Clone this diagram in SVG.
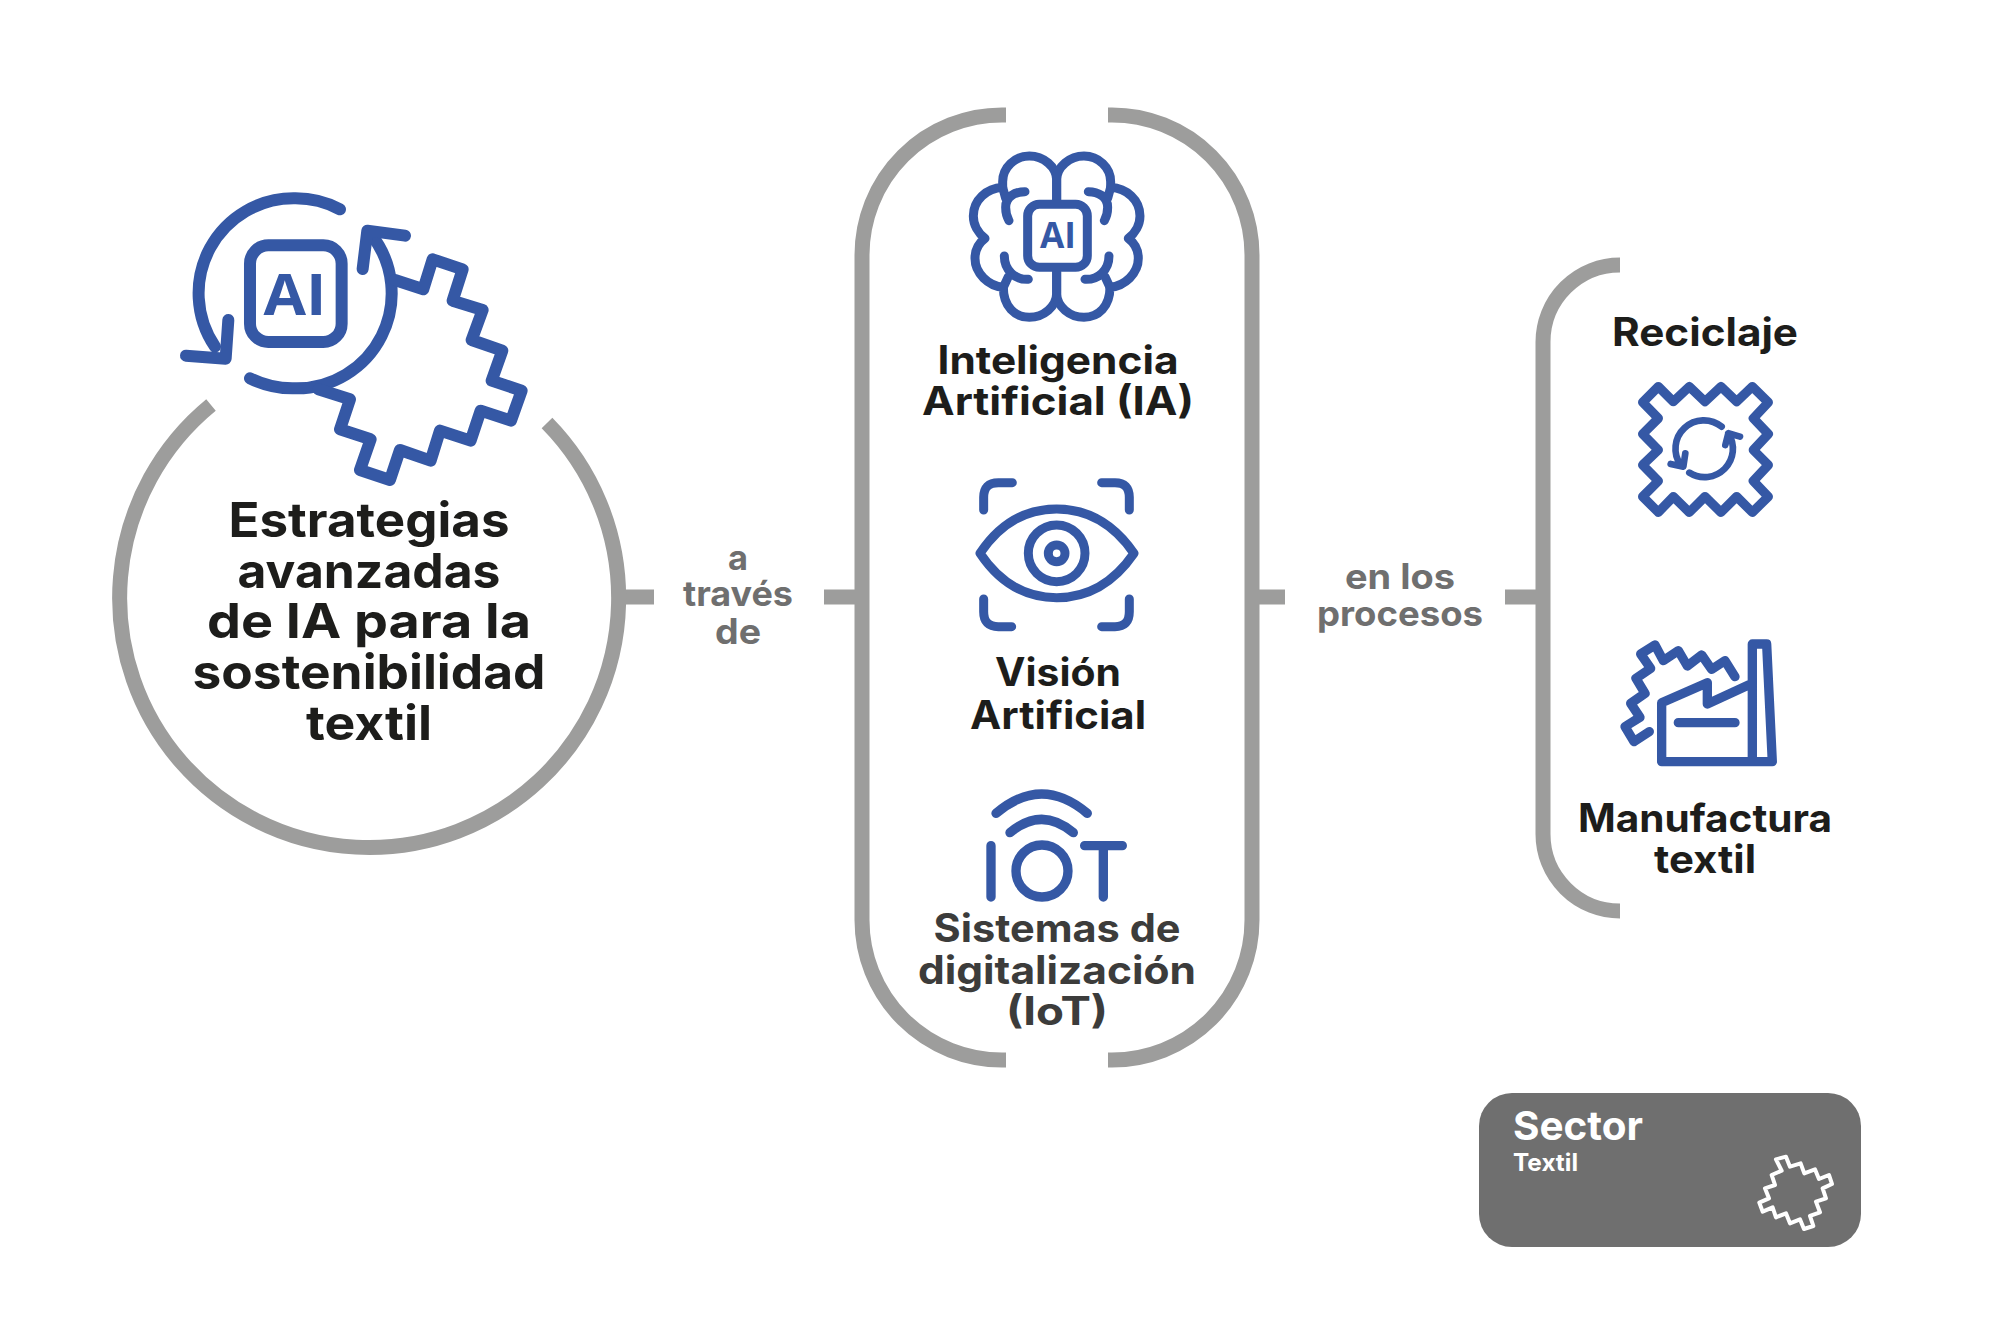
<svg xmlns="http://www.w3.org/2000/svg" width="2000" height="1333" viewBox="0 0 2000 1333">
<style>
text{font-family:Inter,"Liberation Sans",sans-serif;font-weight:700;text-anchor:middle}
.g{fill:none;stroke:#9d9d9c;stroke-width:15}
.i{fill:none;stroke:#3558a5;stroke-linecap:round;stroke-linejoin:round}
.ai{fill:#3558a5;font-family:"Open Sans",sans-serif;font-weight:700}
.m{font-size:48px;fill:#1d1d1b}
.s{font-size:39px;fill:#1d1d1b}
.d{font-size:39px;fill:#3c3c3b}
.c{font-size:35px;fill:#6f6f6f}
.w{fill:#fff;text-anchor:start}
</style>
<rect width="2000" height="1333" fill="#fff"/>
<g id="connectors">
<path class="g" d="M625 597H654M824 597H856M1259 597H1285M1505 597H1537"/>
</g>
<g id="node-estrategias">
<path class="g" d="M211 405A249.500 249.500 0 1 0 547 423"/>
<g class="i" stroke-width="36" transform="translate(160 170) scale(.3333)">
<path d="M540 118A285 285 0 0 0 405 85A285 285 0 0 0 165 530"/>
<path d="M78 557L197 566L205 450"/>
<path d="M270 625A285 285 0 0 0 405 655A285 285 0 0 0 635 195"/>
<path d="M608 297L622 182L735 197"/>
<rect x="270" y="226" width="275" height="290" rx="55"/>
<path d="M705 330L790 358L818 268L908 298L878 392L968 420L935 510L1027 542L995 632L1085 662L1053 752L962 722L932 812L840 782L812 872L720 840L690 930L600 900L632 808L540 778L570 688L475 658"/>
</g>
<text class="ai" x="295" y="315" font-size="58" textLength="63" lengthAdjust="spacingAndGlyphs">AI</text>
<text class="m" x="369" y="537" textLength="281" lengthAdjust="spacingAndGlyphs">Estrategias</text>
<text class="m" x="369" y="588" textLength="263" lengthAdjust="spacingAndGlyphs">avanzadas</text>
<text class="m" x="369" y="638" textLength="324" lengthAdjust="spacingAndGlyphs">de IA para la</text>
<text class="m" x="369" y="689" textLength="353" lengthAdjust="spacingAndGlyphs">sostenibilidad</text>
<text class="m" x="369" y="740" textLength="126" lengthAdjust="spacingAndGlyphs">textil</text>
</g>
<g id="label-a-traves-de">
<text class="c" x="738" y="570" textLength="20" lengthAdjust="spacingAndGlyphs">a</text>
<text class="c" x="738" y="606" textLength="110" lengthAdjust="spacingAndGlyphs">través</text>
<text class="c" x="738" y="644" textLength="46" lengthAdjust="spacingAndGlyphs">de</text>
</g>
<g id="node-tecnologias">
<path class="g" d="M1006 115H1002A140 140 0 0 0 862 255V920A140 140 0 0 0 1002 1060H1006M1108 115H1112A140 140 0 0 1 1252 255V920A140 140 0 0 1 1112 1060H1108"/>
</g>
<g id="node-ia">
<defs>
<g id="brain-half">
<path d="M350 210V150C350 110 310 78 268 78C225 78 188 112 188 155V172C140 175 100 210 100 258C100 285 115 310 135 325C115 340 105 360 105 385C105 430 145 468 190 472C190 530 225 562 268 562C310 562 350 530 350 490V425"/>
<path d="M255 185C225 185 197 200 197 232Q197 255 207 272M188 172L197 205M193 378C193 420 225 450 265 448M190 472L205 440"/>
</g>
</defs>
<g class="i" stroke-width="27" transform="translate(940 130) scale(.3333)">
<use href="#brain-half"/>
<use href="#brain-half" transform="translate(700 0) scale(-1 1)"/>
<rect x="263" y="223" width="179" height="189" rx="35"/>
</g>
<text class="ai" x="1058" y="248" font-size="35" textLength="36" lengthAdjust="spacingAndGlyphs">AI</text>
<text class="s" x="1058" y="374" textLength="241" lengthAdjust="spacingAndGlyphs">Inteligencia</text>
<text class="s" x="1058" y="415" textLength="272" lengthAdjust="spacingAndGlyphs">Artificial (IA)</text>
</g>
<g id="node-vision">
<g class="i" stroke-width="27" transform="translate(950 460) scale(.3333)">
<path d="M187 68H145Q101 68 101 112V150M455 68H495Q538 68 538 112V150M101 417V455Q101 500 145 500H185M538 417V455Q538 500 495 500H455"/>
<path d="M90 280C150 190 230 147 320 147C410 147 490 190 552 280C490 370 410 413 320 413C230 413 150 370 90 280Z"/>
<circle cx="320" cy="280" r="85"/>
<circle cx="320" cy="280" r="25"/>
</g>
<text class="s" x="1058" y="686" textLength="126" lengthAdjust="spacingAndGlyphs">Visión</text>
<text class="s" x="1058" y="729" textLength="176" lengthAdjust="spacingAndGlyphs">Artificial</text>
</g>
<g id="node-iot">
<g class="i" stroke-width="28" transform="translate(960 770) scale(.3333)">
<path d="M108 130Q245 14 382 130M150 188Q245 108 340 188M93 227V381M374 227H487M430 227V381"/>
<circle cx="246" cy="303" r="78"/>
</g>
<text class="d" x="1057" y="942" textLength="247" lengthAdjust="spacingAndGlyphs">Sistemas de</text>
<text class="d" x="1057" y="984" textLength="278" lengthAdjust="spacingAndGlyphs">digitalización</text>
<text class="d" x="1057" y="1025" textLength="102" lengthAdjust="spacingAndGlyphs">(IoT)</text>
</g>
<g id="label-en-los-procesos">
<text class="c" x="1400" y="589" textLength="110" lengthAdjust="spacingAndGlyphs">en los</text>
<text class="c" x="1400" y="626" textLength="166" lengthAdjust="spacingAndGlyphs">procesos</text>
</g>
<g id="node-procesos">
<path class="g" d="M1620 265A77 77 0 0 0 1543 342V834A77 77 0 0 0 1620 911"/>
</g>
<g id="node-reciclaje">
<text class="s" x="1705" y="346" textLength="186" lengthAdjust="spacingAndGlyphs">Reciclaje</text>
<g class="i" transform="translate(1620 370) scale(.3333)">
<path stroke-width="28" d="M115 50L160 95L208 50L255 95L303 50L350 95L397 50L445 97L400 145L445 192L400 240L445 285L400 333L445 380L397 427L350 380L303 427L255 380L208 427L160 380L115 427L68 380L115 333L68 285L115 240L68 192L115 145L68 97Z"/>
<path stroke-width="20" d="M305 170A85 85 0 0 0 182 285M152 282L190 290L196 250M208 308A85 85 0 0 0 325 190M316 225L325 190L360 200"/>
</g>
</g>
<g id="node-manufactura">
<g class="i" stroke-width="28" transform="translate(1610 630) scale(.3333)">
<path d="M375 140L345 92L305 118L275 75L232 108L205 62L160 92L135 45L92 72L122 115L78 145L105 190L62 220L90 262L45 290L72 335L118 305"/>
<path d="M155 395V218L292 158V222L427 160M155 395H487L470 42H427V395M205 278H375"/>
</g>
<text class="s" x="1705" y="832" textLength="254" lengthAdjust="spacingAndGlyphs">Manufactura</text>
<text class="s" x="1705" y="873" textLength="102" lengthAdjust="spacingAndGlyphs">textil</text>
</g>
<g id="node-sector">
<rect x="1479" y="1093" width="382" height="154" rx="33" fill="#6f6f6f"/>
<text class="w" x="1513" y="1140" font-size="40" textLength="130" lengthAdjust="spacingAndGlyphs">Sector</text>
<text class="w" x="1513" y="1171" font-size="24" textLength="65" lengthAdjust="spacingAndGlyphs">Textil</text>
<g class="i" transform="translate(1470 1080) scale(.3333)" style="stroke:#fff" stroke-width="12">
<path d="M918 238L948 230L960 260L992 250L1003 280L1035 268L1047 297L1077 285L1086 312L1058 325L1068 355L1038 365L1050 397L1020 408L1030 438L1002 447L990 418L960 430L948 400L918 412L908 382L878 395L868 368L897 355L885 325L915 315L905 285L935 272Z"/>
</g>
</g>
</svg>
